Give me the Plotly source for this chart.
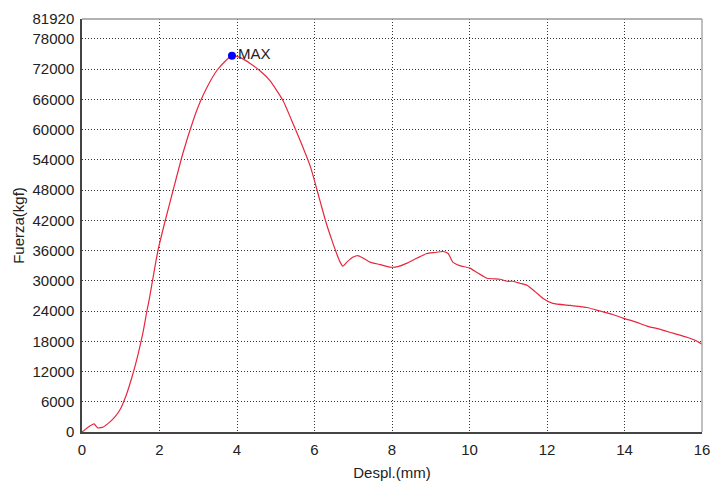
import plotly.graph_objects as go

# Displacement (mm) and force (kgf)
despl = [0.0, 0.15, 0.31, 0.41, 0.55, 0.72, 0.85, 0.98, 1.15, 1.32, 1.45, 1.57, 1.68, 1.73,
         1.96, 2.15, 2.35, 2.6, 2.87, 3.05, 3.22, 3.48, 3.7, 3.87,
         4.1, 4.34, 4.6, 4.85, 5.19, 5.4, 5.63, 5.9, 6.14, 6.3, 6.45, 6.58, 6.66, 6.73,
         6.85, 7.0, 7.12, 7.25, 7.43, 7.7, 7.95, 8.15, 8.39, 8.65, 8.9, 9.1, 9.32, 9.45,
         9.57, 9.75, 10.01, 10.2, 10.45, 10.79, 10.97, 11.12, 11.3, 11.48, 11.7, 11.9,
         12.15, 12.6, 13.03, 13.37, 13.7, 13.96, 14.3, 14.58, 14.9, 15.25, 15.61, 15.85, 16.0]
fuerza = [0, 900, 1600, 800, 1000, 2000, 3000, 4400, 7500, 11700, 15500, 19600, 24200, 26100,
          36000, 42000, 47900, 55200, 61800, 65500, 68300, 71700, 73600, 74650,
          74200, 73100, 71600, 69700, 65700, 62000, 57800, 52500, 45900, 41500, 38000, 35200, 33700, 32900,
          33800, 34700, 35000, 34500, 33700, 33200, 32700, 32800, 33500, 34500, 35400, 35600, 35800, 35400,
          33700, 33000, 32500, 31600, 30500, 30300, 29900, 29900, 29500, 29100, 27800, 26500,
          25500, 25100, 24700, 24000, 23300, 22600, 21800, 21000, 20400, 19600, 18800, 18100, 17400]

max_x = [3.87]
max_y = [74650]
max_label = ["MAX"]

y_ticks = [0, 6000, 12000, 18000, 24000, 30000, 36000, 42000, 48000, 54000, 60000, 66000, 72000, 78000, 81920]
y_tick_text = [str(v) for v in y_ticks]
x_ticks = [0, 2, 4, 6, 8, 10, 12, 14, 16]

font = "Liberation Sans, Arial, sans-serif"
grid = dict(showgrid=True, gridcolor="#333333", griddash="1px,2px", gridwidth=1)

fig = go.Figure()
fig.add_trace(go.Scatter(x=despl, y=fuerza, mode="lines",
                         line=dict(color="#e6283e", width=1.2, shape="spline", smoothing=0.5),
                         hoverinfo="skip", showlegend=False))
fig.add_trace(go.Scatter(x=max_x, y=max_y, mode="markers+text", text=max_label,
                         textposition="middle right",
                         textfont=dict(family=font, size=15, color="#222222"),
                         marker=dict(color="#0000ff", size=8),
                         showlegend=False))

fig.update_layout(
    width=712, height=481,
    margin=dict(l=82, r=10, t=19, b=49),
    paper_bgcolor="white", plot_bgcolor="white",
    font=dict(family=font, size=15, color="#222222"),
    xaxis=dict(range=[0, 16], tickvals=x_ticks, ticks="", automargin=False, **grid,
               zeroline=False, showline=True, linecolor="#444444", linewidth=1.5,
               ticklabelstandoff=3,
               title=dict(text="Despl.(mm)", font=dict(size=15), standoff=12),
               tickfont=dict(size=15)),
    yaxis=dict(range=[0, 81920], tickvals=y_ticks, ticktext=y_tick_text, ticks="",
               automargin=False, **grid, ticklabelstandoff=3,
               zeroline=False, showline=True, linecolor="#444444", linewidth=1.5,
               title=dict(text="Fuerza(kgf)", font=dict(size=15), standoff=4),
               tickfont=dict(size=15)),
    shapes=[
        dict(type="line", xref="paper", yref="paper", x0=0, x1=1, y0=1, y1=1,
             line=dict(color="#999999", width=1.5), layer="above"),
        dict(type="line", xref="paper", yref="paper", x0=1, x1=1, y0=0, y1=1,
             line=dict(color="#aaaaaa", width=1.5), layer="above"),
    ],
)

fig.write_html("out.html", config={"displayModeBar": False},
               post_script="document.body.style.margin='0';document.body.style.overflow='hidden';")
